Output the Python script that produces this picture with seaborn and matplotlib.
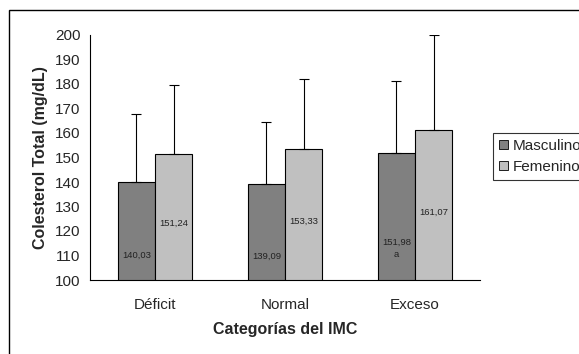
import pandas as pd
import matplotlib
matplotlib.use("Agg")
import matplotlib.pyplot as plt
import matplotlib.patches as mpatches
import seaborn as sns
import numpy as np

# datos del gráfico
categorias = ["Déficit", "Normal", "Exceso"]
sexos = ["Masculino", "Femenino"]
media_masc = [140.03, 139.09, 151.98]
media_fem = [151.24, 153.33, 161.07]
de_masc = [27.8, 25.6, 29.3]
de_fem = [28.3, 28.6, 38.8]
etiq_masc = ["140,03", "139,09", "151,98\na"]
etiq_fem = ["151,24", "153,33", "161,07"]

df = pd.DataFrame({
    "cat": categorias * 2,
    "sexo": [sexos[0]] * 3 + [sexos[1]] * 3,
    "media": media_masc + media_fem,
    "de": de_masc + de_fem,
    "etiq": etiq_masc + etiq_fem,
})

sns.set_theme(style="white")
plt.rcParams['font.family'] = ['Liberation Sans', 'DejaVu Sans']

fig = plt.figure(figsize=(5.79, 3.54), dpi=100)
ax = fig.add_axes([90 / 579, 1 - 280 / 354, 390 / 579, 245 / 354])

sns.barplot(data=df, x="cat", y="media", hue="sexo", order=categorias, hue_order=sexos,
            palette=["#808080", "#c0c0c0"], edgecolor="black", linewidth=0.8,
            width=0.57, errorbar=None, ax=ax, legend=False)

# barras de error solo hacia arriba
for cont, s in zip(ax.containers, sexos):
    sub = df[df["sexo"] == s].set_index("cat").loc[categorias]
    xs = [b.get_x() + b.get_width() / 2 for b in cont]
    ax.errorbar(xs, sub["media"], yerr=[np.zeros(len(xs)), sub["de"]], fmt="none",
                ecolor="black", elinewidth=0.8, capsize=3.5, capthick=0.8)
    for b, lab, m in zip(cont, sub["etiq"], sub["media"]):
        yl = 100 + (m - 100) * (0.45 if s == "Femenino" else 0.25)
        ax.text(b.get_x() + b.get_width() / 2, yl, lab, ha="center", va="center",
                fontsize=6.8, color="#222222", linespacing=1.5)

ax.set_ylim(100, 200)
ax.set_xlim(-0.5, 2.5)
ax.set_yticks(range(100, 201, 10))
ax.set_xticks([0, 1, 2])
ax.set_xticklabels(categorias, fontsize=11)
ax.set_xticks([-0.5, 0.5, 1.5, 2.5], minor=True)
ax.tick_params(axis="x", which="major", length=0, pad=13)
ax.tick_params(axis="x", which="minor", length=4, width=0.8, color="black", direction="out")
ax.tick_params(axis="y", length=4, width=0.8, color="black", direction="out", labelsize=11, pad=3)
for sp in ["top", "right"]:
    ax.spines[sp].set_visible(False)
for sp in ["left", "bottom"]:
    ax.spines[sp].set_color("black")
    ax.spines[sp].set_linewidth(0.8)

ax.set_xlabel("Categorías del IMC", fontsize=11.5, fontweight="bold", labelpad=7)
ax.set_ylabel("Colesterol Total (mg/dL)", fontsize=11.5, fontweight="bold", labelpad=5)

handles = [mpatches.Patch(facecolor=c, edgecolor="black", linewidth=0.6, label=s)
           for c, s in zip(["#808080", "#c0c0c0"], sexos)]
leg = fig.legend(handles=handles, loc="upper left", bbox_to_anchor=(493 / 579, 1 - 133 / 354),
                 fontsize=11, frameon=True, fancybox=False, handlelength=0.55, handleheight=0.55,
                 handletextpad=0.35, borderpad=0.4, borderaxespad=0, labelspacing=0.45)
leg.get_frame().set_edgecolor("black")
leg.get_frame().set_linewidth(0.8)

# marco exterior del gráfico
fig.patches.append(mpatches.Rectangle((9 / 579, -0.1), 1.2, 1 - 10 / 354 + 0.1,
                                      transform=fig.transFigure, fill=False,
                                      edgecolor="black", linewidth=1.0))

fig.savefig("out.png", dpi=100)
